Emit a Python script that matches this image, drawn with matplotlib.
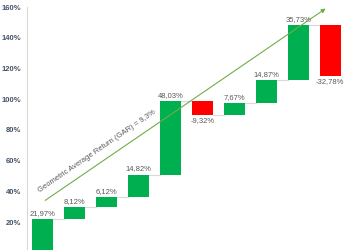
import numpy as np
import matplotlib
matplotlib.use("Agg")
from matplotlib import pyplot as plt

plt.rcParams['font.family'] = ['Liberation Sans', 'DejaVu Sans']

# yearly returns (%) of the waterfall
changes = [21.97, 8.12, 6.12, 14.82, 48.03, -9.32, 7.67, 14.87, 35.73, -32.78]
gar_text = "Geometric Average Return (GAR) = 9,3%"
y_ticks = [0, 20, 40, 60, 80, 100, 120, 140, 160]

GREEN = '#00B050'
RED = '#FF0000'
TXT = '#595959'

def main():
  ends = np.cumsum(changes)
  starts = ends - np.array(changes)
  x = np.arange(len(changes))
  w = 0.66

  fig = plt.figure(figsize=(3.5, 2.5), dpi=100)
  ax = fig.add_axes([0.077, -0.012, 0.912, 0.984])

  colors = [GREEN if c >= 0 else RED for c in changes]
  ax.bar(x, changes, bottom=starts, width=w, color=colors, zorder=2)

  #Connecteurs
  for i in range(len(changes) - 1):
    ax.plot([x[i] + w/2, x[i+1] - w/2], [ends[i], ends[i]], color='#D9D9D9', lw=0.8, zorder=1)

  #Etiquettes
  for i, c in enumerate(changes):
    lab = f"{c:.2f}%".replace('.', ',')
    if c >= 0:
      ax.annotate(lab, (x[i], ends[i]), xytext=(0, 1.5), textcoords='offset points',
                  ha='center', va='bottom', fontsize=5.5, color=TXT)
    else:
      ax.annotate(lab, (x[i], ends[i]), xytext=(0, -1.5), textcoords='offset points',
                  ha='center', va='top', fontsize=5.5, color=TXT)

  ax.set_xlim(-0.5, len(changes) - 0.5)
  ax.set_ylim(0, 160)
  ax.set_yticks(y_ticks)
  ax.set_yticklabels([f"{t}%" for t in y_ticks], fontsize=5.5, color='#44546A', fontweight='bold')
  ax.set_xticks([])
  ax.tick_params(axis='y', length=0, pad=4)
  for s in ['top', 'right', 'bottom']:
    ax.spines[s].set_visible(False)
  ax.spines['left'].set_color('#D9D9D9')
  ax.spines['left'].set_linewidth(0.8)

  #Flèche GAR
  p0 = (0.0, 33.2)
  p1 = (8.93, 160.0)
  ax.annotate('', xy=p1, xytext=p0,
              arrowprops=dict(arrowstyle='-|>', color='#70AD47', lw=0.8, mutation_scale=6),
              annotation_clip=False, zorder=3)
  d0 = ax.transData.transform(p0)
  d1 = ax.transData.transform(p1)
  ang = np.degrees(np.arctan2(d1[1] - d0[1], d1[0] - d0[0]))
  ax.text(-0.05, 38.5, gar_text, rotation=ang, rotation_mode='anchor',
          ha='left', va='bottom', fontsize=5.5, color=TXT)

  fig.savefig('out.png', dpi=100)

if __name__ == "__main__":
  main()
